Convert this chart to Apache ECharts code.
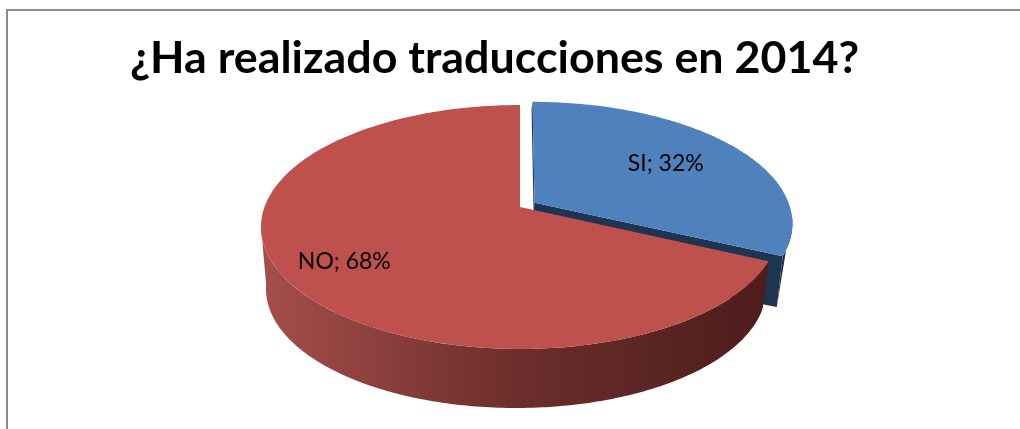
<!DOCTYPE html>
<html>
<head>
<meta charset="utf-8">
<style>
html, body { margin: 0; padding: 0; background: #fff; }
#main { width: 1020px; height: 429px; }
</style>
<script src="https://cdn.jsdelivr.net/npm/echarts@6/dist/echarts.min.js"></script>
</head>
<body>
<div id="main"></div>
<script>
const titleText = '¿Ha realizado traducciones en 2014?';
const categories = ['SI', 'NO'];
const values = [32, 68];

// tilted disc: perspective projection of the unit circle
const cx = 520, cy = 207, ax = 255.5, by = 118.7, persp = 0.164;
// lower rim of the disc
const rim = { x: 516, y: 289, rx: 250, ry: 119 };
const explode = [0.068, 0];
const labelRadius = [0.65, 0.76];
const labelShift = [0, 3];
const topColors = ['#4f81bd', '#be504d'];
const wallColor = '#1e3450';

const total = values.reduce((a, b) => a + b, 0);
const rad = d => d * Math.PI / 180;

function project(u, v) {
    const w = 1 - persp * v;
    return [cx + ax * u / w, cy + by * v / w];
}
function topPoint(deg, ox, oy) {
    return project(Math.sin(rad(deg)) + ox, -Math.cos(rad(deg)) + oy);
}
function rimPoint(deg, dx, dy) {
    return [rim.x + dx + rim.rx * Math.sin(rad(deg)), rim.y + dy - rim.ry * Math.cos(rad(deg))];
}
function arc(fn, from, to) {
    const pts = [];
    const n = Math.max(2, Math.ceil(Math.abs(to - from)));
    for (let i = 0; i <= n; i++) pts.push(fn(from + (to - from) * i / n));
    return pts;
}

function renderSlice(params) {
    const i = params.dataIndex;
    const start = values.slice(0, i).reduce((a, b) => a + b, 0) / total * 360;
    const end = start + values[i] / total * 360;
    const mid = (start + end) / 2;
    const ox = explode[i] * Math.sin(rad(mid));
    const oy = -explode[i] * Math.cos(rad(mid));
    const center = project(ox, oy);
    const top = arc(d => topPoint(d, ox, oy), start, end);
    const children = [];

    if (i === 0) {
        // cut face and outer wall of the pulled out slice
        const tip = top[top.length - 1];
        const foot = rimPoint(end - 16, 14, -1);
        children.push({
            type: 'polygon',
            shape: { points: [center, tip, foot, [center[0] - 8, center[1] + 56]] },
            style: { fill: wallColor }
        });
        const wall = arc(d => topPoint(d, ox, oy), 96, end).concat([foot]);
        children.push({ type: 'polygon', shape: { points: wall }, style: { fill: wallColor } });
        children.push({
            type: 'polygon',
            shape: { points: [[center[0] - 1, center[1] + 7], center, top[0], [top[0][0] - 1, top[0][1] + 7]] },
            style: { fill: wallColor }
        });
    } else {
        const side = arc(d => topPoint(d, 0, 0), start, 261)
            .concat(arc(d => rimPoint(d, 0, 0), 272, start - 16));
        children.push({
            type: 'polygon',
            shape: { points: side },
            style: {
                fill: new echarts.graphic.LinearGradient(0, 0, 1, 0, [
                    { offset: 0, color: '#a64e4b' },
                    { offset: 0.5, color: '#6c2e2c' },
                    { offset: 1, color: '#4c1d1b' }
                ])
            }
        });
    }

    children.push({
        type: 'polygon',
        shape: { points: [center].concat(top) },
        style: { fill: topColors[i] }
    });

    const r = labelRadius[i];
    const labelPos = project(r * Math.sin(rad(mid)) + ox, -r * Math.cos(rad(mid)) + oy);
    children.push({
        type: 'text',
        style: {
            x: labelPos[0], y: labelPos[1] + labelShift[i],
            text: categories[i] + '; ' + Math.round(values[i] / total * 100) + '%',
            fill: '#000', align: 'center', verticalAlign: 'middle',
            font: '23px Lato'
        }
    });
    return { type: 'group', children: children };
}

const chart = echarts.init(document.getElementById('main'));
chart.setOption({
    animation: false,
    title: {
        text: titleText,
        left: 489.5, top: 31,
        textAlign: 'center',
        textStyle: { fontFamily: 'Lato', fontWeight: 'bold', fontSize: 44.8, color: '#000' }
    },
    graphic: [
        { type: 'polyline', shape: { points: [[7, 429], [7, 10], [1020, 10]] }, style: { stroke: '#8c8c8c', lineWidth: 2, fill: null } }
    ],
    series: [{
        type: 'custom',
        coordinateSystem: 'none',
        renderItem: renderSlice,
        data: values
    }]
});
</script>
</body>
</html>
